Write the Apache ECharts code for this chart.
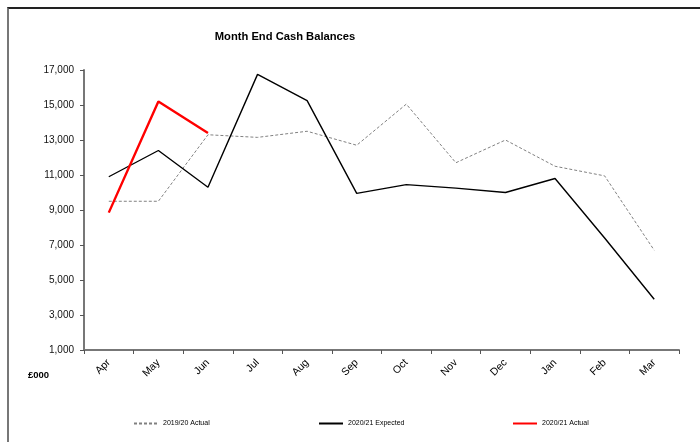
<!DOCTYPE html>
<html lang="en">
<head>
    <meta charset="UTF-8">
    <title>Month End Cash Balances</title>
    <script src="https://cdn.jsdelivr.net/npm/echarts@6/dist/echarts.min.js"></script>
    <style>
        html,body{
            margin: 0;
            padding: 0;
            background: #fff;
        }
        #wrap{
            position: relative;
            width: 700px;
            height: 442px;
        }
        #frame{
            position: absolute;
            left: 7px;
            top: 7px;
            right: 0;
            bottom: 0;
            border-top: 2px solid #222;
            border-left: 2px solid #777;
        }
        #main{
            position: absolute;
            left: 0;
            top: 0;
            width: 700px;
            height: 442px;
        }
    </style>
</head>
<body>
<div id="wrap">
    <div id="frame"></div>
    <div id="main"></div>
</div>
<script>
    var months=['Apr','May','Jun','Jul','Aug','Sep','Oct','Nov','Dec','Jan','Feb','Mar'];
    var actual1920=[9500,9500,13300,13150,13500,12700,15050,11700,13000,11500,10950,6700];
    var expected2021=[10900,12400,10300,16750,15250,9950,10450,10250,10000,10800,7400,3900];
    var actual2021=[8850,15200,13400];

    var FONT='"Liberation Sans", Arial, sans-serif';

    //图例公共样式
    function legendAt(name,x){
        return {
            data:[name],left:x,top:420,padding:0,
            itemWidth:24,itemHeight:8,
            itemStyle:{opacity:0},
            textStyle:{fontFamily:FONT,fontSize:7,color:'#000'}
        };
    }

    var chart=echarts.init(document.getElementById('main'));
    var option={
        animation:false,
        title:{
            text:'Month End Cash Balances',
            left:280,
            top:26,
            textAlign:'center',
            textStyle:{fontFamily:FONT,fontSize:11.2,fontWeight:'bold',color:'#000'}
        },
        grid:{left:84,right:21,top:70,bottom:92,containLabel:false},
        legend:[
            legendAt('2019/20 Actual',133),
            legendAt('2020/21 Expected',318),
            legendAt('2020/21 Actual',512)
        ],
        xAxis:{
            type:'category',
            data:months,
            boundaryGap:true,
            axisLine:{lineStyle:{color:'#777',width:2}},
            axisTick:{show:true,length:4,lineStyle:{color:'#555'}},
            axisLabel:{rotate:45,fontFamily:FONT,fontSize:10.5,color:'#000',margin:11}
        },
        yAxis:{
            type:'value',
            min:1000,
            max:17000,
            interval:2000,
            splitLine:{show:false},
            axisLine:{show:true,lineStyle:{color:'#777',width:2}},
            axisTick:{show:true,length:4,lineStyle:{color:'#555'}},
            axisLabel:{
                fontFamily:FONT,fontSize:10,color:'#111',margin:10,
                formatter:function(v){return v.toLocaleString('en-US');}
            }
        },
        graphic:[{
            type:'text',
            left:28,
            top:370,
            style:{text:'£000',font:'bold 9.5px '+FONT,fill:'#000'}
        }],
        series:[
            {
                name:'2019/20 Actual',
                type:'line',
                data:actual1920,
                symbol:'none',
                lineStyle:{color:'#808080',width:1,type:[3,2]},
                itemStyle:{color:'#808080'}
            },
            {
                name:'2020/21 Expected',
                type:'line',
                data:expected2021,
                symbol:'none',
                lineStyle:{color:'#000',width:1.4},
                itemStyle:{color:'#000'}
            },
            {
                name:'2020/21 Actual',
                type:'line',
                data:actual2021,
                symbol:'none',
                lineStyle:{color:'#ff0000',width:2.4},
                itemStyle:{color:'#ff0000'}
            }
        ]
    };
    chart.setOption(option);
</script>
</body>
</html>
